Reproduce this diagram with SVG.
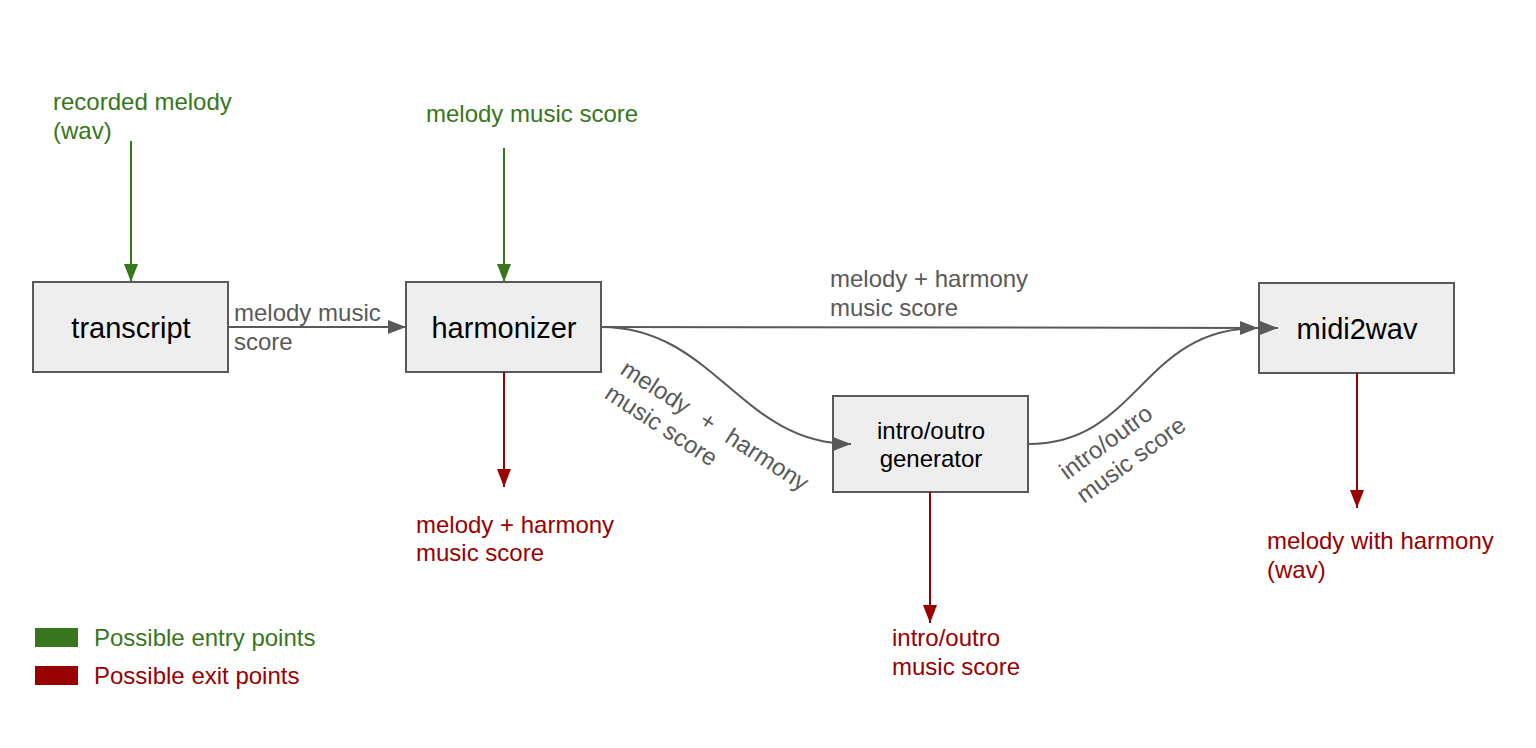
<svg xmlns="http://www.w3.org/2000/svg" width="1536" height="748" viewBox="0 0 1536 748">
  <defs>
    <style>
      text { font-family: "Liberation Sans", Arial, sans-serif; font-size: 24px; }
      .box { fill: #eeeeee; stroke: #595959; stroke-width: 2; }
      .node-label { fill: #000000; font-size: 29px; text-anchor: middle; }
      .node-label-sm { fill: #000000; font-size: 24px; text-anchor: middle; }
      .grey { fill: #595959; }
      .green { fill: #38761d; }
      .red { fill: #990000; }
      .edge-grey { fill: none; stroke: #595959; stroke-width: 2; }
      .edge-green { fill: none; stroke: #38761d; stroke-width: 2; }
      .edge-red { fill: none; stroke: #990000; stroke-width: 2; }
    </style>
    <marker id="arrow-grey" markerUnits="userSpaceOnUse" markerWidth="18" markerHeight="14" refX="18" refY="7" orient="auto">
      <path d="M0,0 L18,7 L0,14 z" fill="#595959"/>
    </marker>
    <marker id="arrow-green" markerUnits="userSpaceOnUse" markerWidth="18" markerHeight="14" refX="18" refY="7" orient="auto">
      <path d="M0,0 L18,7 L0,14 z" fill="#38761d"/>
    </marker>
    <marker id="arrow-red" markerUnits="userSpaceOnUse" markerWidth="18" markerHeight="14" refX="18" refY="7" orient="auto">
      <path d="M0,0 L18,7 L0,14 z" fill="#990000"/>
    </marker>
  </defs>

  <rect width="1536" height="748" fill="#ffffff"/>

  <g id="node-transcript">
    <rect class="box" x="33" y="282" width="195" height="90"/>
    <text class="node-label" x="131" y="338">transcript</text>
  </g>

  <g id="node-harmonizer">
    <rect class="box" x="406" y="282" width="195" height="90"/>
    <text class="node-label" x="504" y="338">harmonizer</text>
  </g>

  <g id="node-intro-outro">
    <rect class="box" x="833" y="396" width="195" height="96"/>
    <text class="node-label-sm" x="931" y="439">intro/outro</text>
    <text class="node-label-sm" x="931" y="467">generator</text>
  </g>

  <g id="node-midi2wav">
    <rect class="box" x="1259" y="283" width="195" height="90"/>
    <text class="node-label" x="1357" y="339">midi2wav</text>
  </g>

  <!-- connectors, drawn above the boxes so overlapping arrowheads stay visible -->
  <g id="connectors">
    <path class="edge-green" d="M131,141 L131,282" marker-end="url(#arrow-green)"/>
    <path class="edge-green" d="M504,148 L504,282" marker-end="url(#arrow-green)"/>
    <path class="edge-grey" d="M228,327 L406,327" marker-end="url(#arrow-grey)"/>
    <path class="edge-grey" d="M601,327 L1278,328" marker-end="url(#arrow-grey)"/>
    <path class="edge-grey" d="M601,327 C715,327 740,444 851,444" marker-end="url(#arrow-grey)"/>
    <path class="edge-grey" d="M1028,444 C1140,444 1140,328 1258,328" marker-end="url(#arrow-grey)"/>
    <path class="edge-red" d="M504,372 L504,487" marker-end="url(#arrow-red)"/>
    <path class="edge-red" d="M930,492 L930,623" marker-end="url(#arrow-red)"/>
    <path class="edge-red" d="M1357,373 L1357,508" marker-end="url(#arrow-red)"/>
  </g>

  <!-- connector labels -->
  <g id="edge-labels">
    <text class="green" x="53" y="110">recorded melody</text>
    <text class="green" x="53" y="139">(wav)</text>
    <text class="green" x="426" y="122">melody music score</text>
    <text class="grey" x="234" y="321">melody music</text>
    <text class="grey" x="234" y="350">score</text>
    <text class="grey" x="830" y="287">melody + harmony</text>
    <text class="grey" x="830" y="316">music score</text>
    <text class="grey" transform="translate(619,373) rotate(33)"><tspan x="0" y="0" word-spacing="10">melody + harmony</tspan><tspan x="0" y="29">music score</tspan></text>
    <text class="grey" transform="translate(1084,504) rotate(-36)"><tspan x="0" y="-29">intro/outro</tspan><tspan x="0" y="0">music score</tspan></text>
    <text class="red" x="416" y="533">melody + harmony</text>
    <text class="red" x="416" y="561">music score</text>
    <text class="red" x="892" y="646">intro/outro</text>
    <text class="red" x="892" y="675">music score</text>
    <text class="red" x="1267" y="549">melody with harmony</text>
    <text class="red" x="1267" y="578">(wav)</text>
  </g>

  <g id="legend">
    <rect x="35" y="628" width="43" height="19" fill="#38761d"/>
    <text class="green" x="94" y="646">Possible entry points</text>
    <rect x="35" y="666" width="43" height="19" fill="#990000"/>
    <text class="red" x="94" y="684">Possible exit points</text>
  </g>
</svg>
